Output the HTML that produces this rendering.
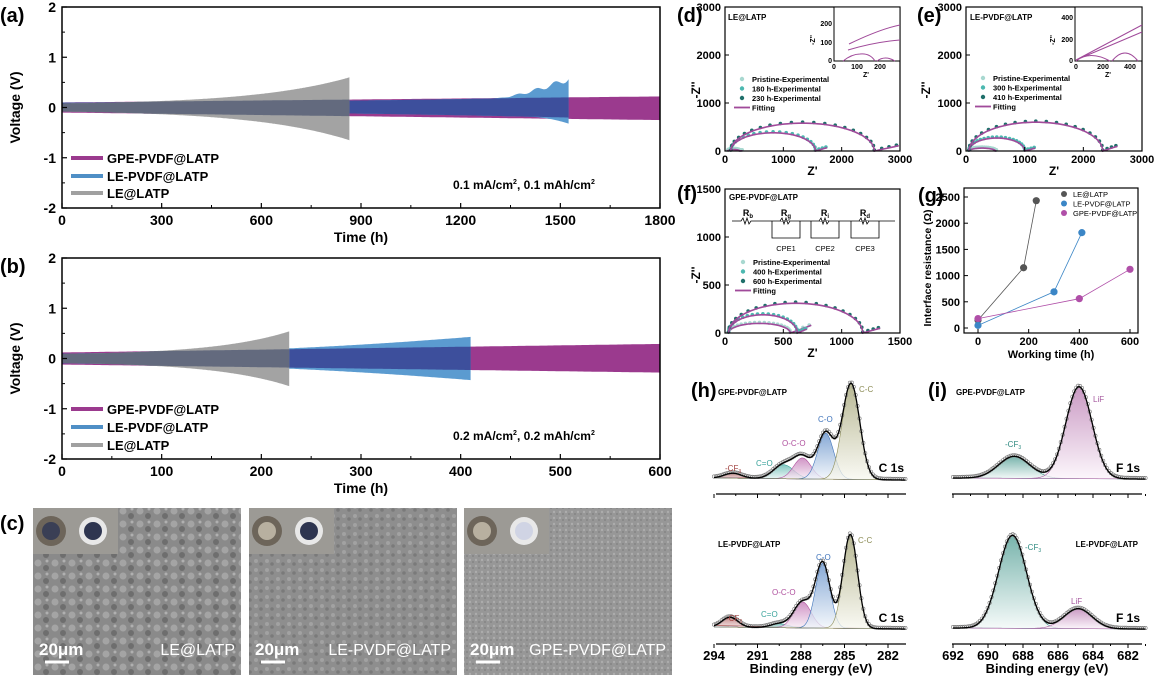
<!DOCTYPE html>
<html><head><meta charset="utf-8">
<style>
html,body{margin:0;padding:0;background:#fff;}
svg{display:block;font-family:"Liberation Sans",sans-serif;}
</style></head>
<body>
<svg id="s" width="1155" height="677" viewBox="0 0 1155 677" xmlns="http://www.w3.org/2000/svg">
<defs>
<linearGradient id="gCC" x1="0" y1="0" x2="0" y2="1"><stop offset="0" stop-color="#a0a070"/><stop offset="1" stop-color="#f8f8f0"/></linearGradient>
<linearGradient id="gCO" x1="0" y1="0" x2="0" y2="1"><stop offset="0" stop-color="#5f8dc8"/><stop offset="1" stop-color="#f2f6fb"/></linearGradient>
<linearGradient id="gOCO" x1="0" y1="0" x2="0" y2="1"><stop offset="0" stop-color="#c070b2"/><stop offset="1" stop-color="#f9f1f8"/></linearGradient>
<linearGradient id="gCeO" x1="0" y1="0" x2="0" y2="1"><stop offset="0" stop-color="#5ab5ad"/><stop offset="1" stop-color="#f1f9f8"/></linearGradient>
<linearGradient id="gCF" x1="0" y1="0" x2="0" y2="1"><stop offset="0" stop-color="#b06060"/><stop offset="1" stop-color="#f9f1f1"/></linearGradient>
<linearGradient id="gTeal" x1="0" y1="0" x2="0" y2="1"><stop offset="0" stop-color="#4a9a90"/><stop offset="1" stop-color="#f3f9f8"/></linearGradient>
<linearGradient id="gLiF" x1="0" y1="0" x2="0" y2="1"><stop offset="0" stop-color="#b878b0"/><stop offset="1" stop-color="#fbf3fa"/></linearGradient>
<pattern id="sem1" width="17" height="13" patternUnits="userSpaceOnUse"><rect width="17" height="13" fill="#8a8a8a"/><circle cx="4" cy="4" r="3.5" fill="#a4a4a4"/><circle cx="12" cy="9" r="3" fill="#6e6e6e"/><circle cx="13" cy="2" r="1.5" fill="#b0b0b0"/></pattern>
<pattern id="sem2" width="11" height="9" patternUnits="userSpaceOnUse"><rect width="11" height="9" fill="#8e8e8e"/><circle cx="3" cy="3" r="2" fill="#a2a2a2"/><circle cx="8" cy="6" r="1.8" fill="#7a7a7a"/></pattern>
<pattern id="sem3" width="6" height="6" patternUnits="userSpaceOnUse"><rect width="6" height="6" fill="#979797"/><circle cx="2" cy="2" r="1.2" fill="#acacac"/><circle cx="5" cy="4" r="1" fill="#848484"/></pattern>
</defs>
<g id="root"></g>
</svg>
<script>
var out=[];
function P(s){out.push(s);}
function T(x,y,t,o){o=o||{};P('<text x="'+x+'" y="'+y+'" font-size="'+(o.fs||12)+'" font-weight="'+(o.w||'bold')+'" text-anchor="'+(o.a||'start')+'" fill="'+(o.c||'#000')+'"'+(o.tr?' transform="'+o.tr+'"':'')+'>'+t+'</text>');}
function L(x1,y1,x2,y2,c,w){P('<line x1="'+x1+'" y1="'+y1+'" x2="'+x2+'" y2="'+y2+'" stroke="'+(c||'#000')+'" stroke-width="'+(w||1)+'"/>');}
function R(x,y,w,h,f,s,sw){P('<rect x="'+x+'" y="'+y+'" width="'+w+'" height="'+h+'" fill="'+(f||'none')+'" stroke="'+(s||'none')+'" stroke-width="'+(sw||1)+'"/>');}
function poly(pts){return pts.map(function(p,i){return (i?'L':'M')+p[0].toFixed(1)+','+p[1].toFixed(1);}).join('');}

function band(X,Y,t0,t1,up,lo,fill,op){var a=[],b=[],n=300;for(var i=0;i<=n;i++){var t=t0+(t1-t0)*i/n;a.push([X(t),Y(up(t))]);b.push([X(t),Y(lo(t))]);}
 P('<path d="'+poly(a.concat(b.reverse()))+'Z" fill="'+fill+'" fill-opacity="'+op+'"/>');}
function ex(t,T,k){return (Math.exp(k*t/T)-1)/(Math.exp(k)-1);}
function voltPanel(top,bot,tmax,step,lab,ann,series){
 var x0=62,x1=660;var X=function(t){return x0+(x1-x0)*t/tmax;};var Y=function(v){return top+(bot-top)*(2-v)/4;};
 series(X,Y);
 R(x0,top,x1-x0,bot-top,'none','#000',1.5);
 for(var v=-2;v<=2;v++){L(x0,Y(v),x0+5,Y(v),'#000',1.2);T(x0-6,Y(v)+5,v,{fs:14,a:'end'});}
 for(var v=-1.5;v<=1.5;v+=1){L(x0,Y(v),x0+3,Y(v));}
 for(var t=0;t<=tmax;t+=step){L(X(t),bot,X(t),bot-5,'#000',1.2);T(X(t),bot+17,t,{fs:14,a:'middle'});}
 for(var t=step/2;t<tmax;t+=step){L(X(t),bot,X(t),bot-3);}
 T(361,bot+34,'Time (h)',{fs:14,a:'middle'});
 T(20,(top+bot)/2,'Voltage (V)',{fs:14,a:'middle',tr:'rotate(-90 20 '+(top+bot)/2+')'});
 T(0,top+15,lab,{fs:20});
 var ly=(lab=='(a)')?[158,176,193]:[409,427,445];
 var lc=['#9b3a8e','#4f8fc6','#a0a0a0'],ln=['GPE-PVDF@LATP','LE-PVDF@LATP','LE@LATP'];
 for(var i=0;i<3;i++){L(71,ly[i],103,ly[i],lc[i],4);T(107,ly[i]+5,ln[i],{fs:13});}
 P('<text x="453" y="'+(ann.y)+'" font-size="12" font-weight="bold">'+ann.a+' mA/cm<tspan font-size="7" dy="-5">2</tspan><tspan dy="5">, '+ann.a+' mAh/cm</tspan><tspan font-size="7" dy="-5">2</tspan></text>');
}
voltPanel(7,208,1800,300,'(a)',{a:'0.1',y:189},function(X,Y){
 var mu=function(t){return 0.1+0.12*t/1800;},ml=function(t){return -(0.1+0.15*t/1800);};
 band(X,Y,0,1800,mu,ml,'#9b3a8e',1);
 band(X,Y,0,1525,function(t){var v=0.1+0.08*Math.pow(t/1300,2);if(t>1300){var u=(t-1300)/225;v+=0.36*Math.pow(u,1.5)+0.06*Math.sin(u*25)*u;}return Math.min(v,0.65);},
   function(t){var v=0.08+0.12*Math.pow(t/1525,2);if(t>1400)v+=0.12*Math.pow((t-1400)/125,2);return -v;},'#5b9bd0',1);
 band(X,Y,0,1525,function(t){return Math.min(mu(t),0.1+0.08*Math.pow(t/1300,2));},function(t){return Math.max(ml(t),-(0.08+0.12*Math.pow(t/1525,2)));},'#3d4f9c',1);
 band(X,Y,0,865,function(t){return 0.08+0.52*ex(t,865,3);},function(t){return -(0.08+0.57*ex(t,865,3));},'#a3a3a3',1);
 band(X,Y,0,865,function(t){return Math.min(mu(t),0.08+0.52*ex(t,865,3));},function(t){return Math.max(ml(t),-(0.08+0.57*ex(t,865,3)));},'#636a7e',1);
});
voltPanel(258,459,600,100,'(b)',{a:'0.2',y:440},function(X,Y){
 var mu=function(t){return 0.12+0.17*t/600;},ml=function(t){return -(0.12+0.16*t/600);};
 band(X,Y,0,600,mu,ml,'#9b3a8e',1);
 var bu=function(t){return 0.1+0.33*Math.pow(t/410,2);};
 band(X,Y,0,410,bu,function(t){return -bu(t);},'#5b9bd0',1);
 band(X,Y,0,410,function(t){return Math.min(mu(t),bu(t));},function(t){return Math.max(ml(t),-bu(t));},'#3d4f9c',1);
 var gu=function(t){return 0.09+0.45*ex(t,228,3);},gl=function(t){return -(0.09+0.46*ex(t,228,3));};
 band(X,Y,0,228,gu,gl,'#a3a3a3',1);
 band(X,Y,0,228,function(t){return Math.min(mu(t),gu(t));},function(t){return Math.max(ml(t),gl(t));},'#636a7e',1);
});

// ---------- Panel c ----------
T(0,530,'(c)',{fs:20});
var sems=[[33,'sem1','LE@LATP'],[249,'sem2','LE-PVDF@LATP'],[464,'sem3','GPE-PVDF@LATP']];
sems.forEach(function(s){var x=s[0];R(x,508,208,167,'url(#'+s[1]+')');
 R(x,508,85,46,'#9c9a95');
 P('<circle cx="'+(x+18)+'" cy="'+531+'" r="15" fill="#6d655a"/><circle cx="'+(x+18)+'" cy="531" r="9" fill="'+(s[1]=='sem1'?'#3a3f55':'#b8b0a0')+'"/>');
 P('<circle cx="'+(x+60)+'" cy="531" r="14" fill="#e8e8e8"/><circle cx="'+(x+60)+'" cy="531" r="9" fill="'+(s[1]=='sem3'?'#d0d4e4':'#2e3550')+'"/>');
 T(x+6,655,'20μm',{fs:17,c:'#fff'});L(x+12,662,x+36,662,'#fff',3);
 T(x+202,655,s[2],{fs:16,c:'#fff',a:'end',w:'normal'});
});

// ---------- EIS panels ----------
function eis(x0,x1,y0,y1,xmax,ymax,step,ystep,curves){
 var X=function(v){return x0+(x1-x0)*v/xmax;},Y=function(v){return y1-(y1-y0)*v/ymax;};
 curves.forEach(function(c){
  var pts=[];var n=60;
  for(var i=0;i<=n;i++){var th=Math.PI*i/n;var xx=c.a+(c.b-c.a)*(1-Math.cos(th))/2;var yy=c.h*Math.sin(th);pts.push([X(xx),Y(yy)]);}
  var tail=[];for(var i=1;i<=10;i++){var xx=c.b+(c.te-c.b)*i/10;tail.push([X(xx),Y(c.th*i/10)]);}
  var all=pts.concat(tail);
  for(var i=0;i<all.length;i+=3){P('<circle cx="'+all[i][0].toFixed(1)+'" cy="'+(all[i][1]-1).toFixed(1)+'" r="1.8" fill="'+c.dc+'"/>');}
  P('<path d="'+poly(all)+'" fill="none" stroke="#a04a9a" stroke-width="1.6"/>');
 });
 R(x0,y0,x1-x0,y1-y0,'none','#000',1.2);
 for(var v=0;v<=ymax;v+=ystep){L(x0,Y(v),x0+4,Y(v));T(x0-4,Y(v)+4,v,{fs:11,a:'end'});}
 for(var v=0;v<=xmax;v+=step){L(X(v),y1,X(v),y1-4);T(X(v),y1+12,v,{fs:11,a:'middle'});}
 T((x0+x1)/2,y1+24,"Z'",{fs:12,a:'middle'});
 return {X:X,Y:Y};
}
function leg(x,y,labels){var cs=['#a8d8d0','#4cb8b0','#1f6f6a'];
 for(var i=0;i<3;i++){P('<circle cx="'+x+'" cy="'+(y+i*9.5-3)+'" r="2.2" fill="'+cs[i]+'"/>');T(x+10,y+i*9.5,labels[i],{fs:7.5});}
 L(x-8,y+25.5,x+8,y+25.5,'#a04a9a',1.8);T(x+10,y+28.5,'Fitting',{fs:7.5});}
eis(725,900,7,151,3000,3000,1000,1000,[
 {a:50,b:250,h:30,te:300,th:5,dc:'#a8d8d0'},
 {a:100,b:1550,h:380,te:1750,th:70,dc:'#4cb8b0'},
 {a:100,b:2560,h:580,te:2980,th:110,dc:'#1f6f6a'}]);
T(677,22,'(d)',{fs:20});T(728,20,'LE@LATP',{fs:8});
T(700,90,"-Z''",{fs:12,a:'middle',tr:'rotate(-90 700 90)'});
leg(742,82,['Pristine-Experimental','180 h-Experimental','230 h-Experimental']);
R(834,7,66,54,'#fff','#000',1);
P('<path d="M849,44 Q880,29 900,25" fill="none" stroke="#a04a9a" stroke-width="1"/><path d="M848,50 Q875,42 900,40" fill="none" stroke="#a04a9a" stroke-width="1"/><path d="M843,61 Q852,54 860,54 Q870,53 875,61 M877,61 Q885,55 895,61" fill="none" stroke="#a04a9a" stroke-width="1"/>');
T(832,26,'200',{fs:7,a:'end'});T(832,45,'100',{fs:7,a:'end'});T(832,63,'0',{fs:7,a:'end'});
T(834,69,'0',{fs:7,a:'middle'});T(857,69,'100',{fs:7,a:'middle'});T(880,69,'200',{fs:7,a:'middle'});T(866,77,"Z'",{fs:7,a:'middle'});
T(815,40,"-Z''",{fs:7,a:'middle',tr:'rotate(-90 815 40)'});
eis(966,1142,7,151,3000,3000,1000,1000,[
 {a:50,b:500,h:60,te:520,th:5,dc:'#a8d8d0'},
 {a:50,b:1000,h:270,te:1180,th:60,dc:'#4cb8b0'},
 {a:50,b:2330,h:600,te:2580,th:100,dc:'#1f6f6a'}]);
T(917,22,'(e)',{fs:20});T(970,20,'LE-PVDF@LATP',{fs:8});
T(930,90,"-Z''",{fs:12,a:'middle',tr:'rotate(-90 930 90)'});
leg(983,81,['Pristine-Experimental','300 h-Experimental','410 h-Experimental']);
R(1075,7,67,54,'#fff','#000',1);
P('<path d="M1076,60 L1142,25 M1076,60 L1142,32 M1076,61 Q1090,50 1110,61 M1112,61 Q1125,45 1138,61" fill="none" stroke="#a04a9a" stroke-width="1"/>');
T(1073,20,'400',{fs:7,a:'end'});T(1073,42,'200',{fs:7,a:'end'});T(1073,63,'0',{fs:7,a:'end'});
T(1076,69,'0',{fs:7,a:'middle'});T(1103,69,'200',{fs:7,a:'middle'});T(1130,69,'400',{fs:7,a:'middle'});T(1108,77,"Z'",{fs:7,a:'middle'});
T(1055,40,"-Z''",{fs:7,a:'middle',tr:'rotate(-90 1055 40)'});
eis(725,900,189,333,1500,1500,500,500,[
 {a:30,b:560,h:100,te:740,th:80,dc:'#a8d8d0'},
 {a:30,b:620,h:190,te:700,th:40,dc:'#4cb8b0'},
 {a:30,b:1180,h:310,te:1330,th:50,dc:'#1f6f6a'}]);
T(677,200,'(f)',{fs:20});T(729,200,'GPE-PVDF@LATP',{fs:8});
T(700,275,"-Z''",{fs:12,a:'middle',tr:'rotate(-90 700 275)'});
P('<path d="M732,221 L741,221 l2,-3 l2,6 l2,-6 l2,6 l2,-3 L772,221" fill="none" stroke="#000" stroke-width="0.8"/>');
L(772,221,895,221,'#000',0.8);
[[772,800,'R','g','CPE1'],[811,839,'R','i','CPE2'],[851,879,'R','d','CPE3']].forEach(function(c){
 P('<path d="M'+c[0]+',221 L'+c[0]+',238 L'+c[1]+',238 L'+c[1]+',221" fill="none" stroke="#000" stroke-width="0.8"/>');
 P('<path d="M'+(c[0]+8)+',221 l2,-3 l2,6 l2,-6 l2,6 l2,-3" fill="#fff" stroke="#000" stroke-width="0.8"/>');
 T((c[0]+c[1])/2,216,c[2]+'<tspan font-size="6" dy="2">'+c[3]+'</tspan>',{fs:9,a:'middle'});
 T((c[0]+c[1])/2,251,c[4],{fs:7.5,a:'middle',w:'normal'});
});
T(748,216,'R<tspan font-size="6" dy="2">b</tspan>',{fs:9,a:'middle'});
leg(743,265,['Pristine-Experimental','400 h-Experimental','600 h-Experimental']);

(function(){var x0=964,x1=1138,y0=188,y1=333;var X=function(t){return 978+(1130-978)*t/600;},Y=function(v){return 328-(328-197)*v/2500;};
 R(x0,y0,x1-x0,y1-y0,'none','#000',1.2);
 for(var v=0;v<=2500;v+=500){L(x0,Y(v),x0+4,Y(v));T(x0-4,Y(v)+4,v,{fs:11,a:'end'});}
 for(var t=0;t<=600;t+=200){L(X(t),y1,X(t),y1-4);T(X(t),y1+12,t,{fs:11,a:'middle'});}
 T(1051,y1+25,'Working time (h)',{fs:11,a:'middle'});
 T(931,268,'Interface resistance (Ω)',{fs:10.5,a:'middle',tr:'rotate(-90 931 268)'});
 T(918,202,'(g)',{fs:20});
 var S=[['#555',[[0,150],[180,1150],[230,2430]],'LE@LATP'],['#3b86c6',[[0,50],[300,690],[410,1820]],'LE-PVDF@LATP'],['#b04fa8',[[0,180],[400,560],[600,1120]],'GPE-PVDF@LATP']];
 S.forEach(function(s,i){P('<path d="'+poly(s[1].map(function(p){return [X(p[0]),Y(p[1])];}))+'" fill="none" stroke="'+s[0]+'" stroke-width="0.8"/>');
  s[1].forEach(function(p){P('<circle cx="'+X(p[0])+'" cy="'+Y(p[1])+'" r="3.6" fill="'+s[0]+'"/>');});
  P('<circle cx="1064" cy="'+(194+i*9.5)+'" r="3" fill="'+s[0]+'"/>');T(1073,197+i*9.5,s[2],{fs:7.5,w:'normal'});});
})();

function g(x,mu,s){return Math.exp(-0.5*Math.pow((x-mu)/s,2));}
function xps(X,e0,e1,base,peaks,slope){
 var n=200,env=[];for(var i=0;i<=n;i++){var e=e0+(e1-e0)*i/n;var v=0;peaks.forEach(function(p){v+=p.h*g(e,p.mu,p.s);});env.push([X(e),base-v-slope*(i/n)]);}
 peaks.forEach(function(p){var pts=[];for(var i=0;i<=n;i++){var e=e0+(e1-e0)*i/n;pts.push([X(e),base-p.h*g(e,p.mu,p.s)-slope*(i/n)]);}
  P('<path d="'+poly(pts)+'Z" fill="url(#'+p.f+')" fill-opacity="0.75" stroke="'+p.c+'" stroke-width="0.6"/>');});
 for(var i=0;i<env.length;i+=2)P('<circle cx="'+env[i][0].toFixed(1)+'" cy="'+(env[i][1]-1).toFixed(1)+'" r="1.7" fill="none" stroke="#777" stroke-width="0.6"/>');
 P('<path d="'+poly(env)+'" fill="none" stroke="#000" stroke-width="1.3"/>');
}
var XH=function(e){return 714+(294-e)*14.5;};
var XI=function(e){return 953+(692-e)*17.5;};
xps(XH,294,280.8,478,[{mu:292.7,s:0.6,h:5,f:'gCF',c:'#a0403e'},{mu:289.2,s:0.7,h:14,f:'gCeO',c:'#3aa39b'},{mu:287.9,s:0.6,h:21,f:'gOCO',c:'#b0529f'},{mu:286.3,s:0.55,h:46,f:'gCO',c:'#3f74bb'},{mu:284.55,s:0.6,h:96,f:'gCC',c:'#8c8c55'}],-2);
xps(XH,294,280.8,627,[{mu:292.9,s:0.55,h:10,f:'gCF',c:'#a0403e'},{mu:289.5,s:0.6,h:4,f:'gCeO',c:'#3aa39b'},{mu:287.9,s:0.6,h:26,f:'gOCO',c:'#b0529f'},{mu:286.5,s:0.5,h:65,f:'gCO',c:'#3f74bb'},{mu:284.6,s:0.5,h:94,f:'gCC',c:'#8c8c55'}],-2);
xps(XI,692,681,478,[{mu:688.5,s:0.9,h:22,f:'gTeal',c:'#2f8a80'},{mu:684.8,s:0.75,h:92,f:'gLiF',c:'#a65a9f'}],-1);
xps(XI,692,681,628,[{mu:688.6,s:0.8,h:93,f:'gTeal',c:'#2f8a80'},{mu:684.85,s:0.8,h:20,f:'gLiF',c:'#a65a9f'}],-1);
[[716,906,XH,[294,291,288,285,282]],[952,1142,XI,[692,690,688,686,684,682]]].forEach(function(a){
 L(a[0],494,a[1],494,'#000',1.2);L(a[0],644,a[1],644,'#000',1.2);
 a[3].forEach(function(e,i){L(a[2](e),494,a[2](e),498);L(a[2](e),644,a[2](e),648);T(a[2](e),660,e,{fs:13,a:'middle'});});
 T((a[0]+a[1])/2,673,'Binding energy (eV)',{fs:13,a:'middle'});
});
[[XH,294,281,1.5],[XI,692,681,1]].forEach(function(m){for(var e=m[1];e>=m[2];e-=m[3]){L(m[0](e),494,m[0](e),496);L(m[0](e),644,m[0](e),646);}});
T(691,397,'(h)',{fs:20});T(928,397,'(i)',{fs:20});
T(718,395,'GPE-PVDF@LATP',{fs:8});T(718,547,'LE-PVDF@LATP',{fs:8});
T(956,395,'GPE-PVDF@LATP',{fs:8});T(1138,547,'LE-PVDF@LATP',{fs:8,a:'end'});
T(904,472,'C 1s',{fs:12,a:'end'});T(904,622,'C 1s',{fs:12,a:'end'});
T(1140,472,'F 1s',{fs:12,a:'end'});T(1140,622,'F 1s',{fs:12,a:'end'});
var sm=function(x,y,t,c){T(x,y,t,{fs:8,c:c,w:'normal'});};
sm(859,392,'C-C','#8c8c55');sm(818,422,'C-O','#3f74bb');sm(782,446,'O-C-O','#b0529f');sm(756,466,'C=O','#3aa39b');
P('<text x="725" y="471" font-size="8" fill="#a0403e">-CF<tspan font-size="5" dy="2">3</tspan></text>');
sm(858,543,'C-C','#8c8c55');sm(816,560,'C-O','#3f74bb');sm(772,595,'O-C-O','#b0529f');sm(761,617,'C=O','#3aa39b');
P('<text x="726" y="621" font-size="8" fill="#a0403e">-CF<tspan font-size="5" dy="2">3</tspan></text>');
sm(1093,402,'LiF','#a65a9f');sm(1071,604,'LiF','#a65a9f');
P('<text x="1005" y="447" font-size="8" fill="#2f8a80">-CF<tspan font-size="5" dy="2">3</tspan></text>');
P('<text x="1025" y="550" font-size="8" fill="#2f8a80">-CF<tspan font-size="5" dy="2">3</tspan></text>');

document.getElementById('root').innerHTML=out.join('');
</script>
</body></html>
